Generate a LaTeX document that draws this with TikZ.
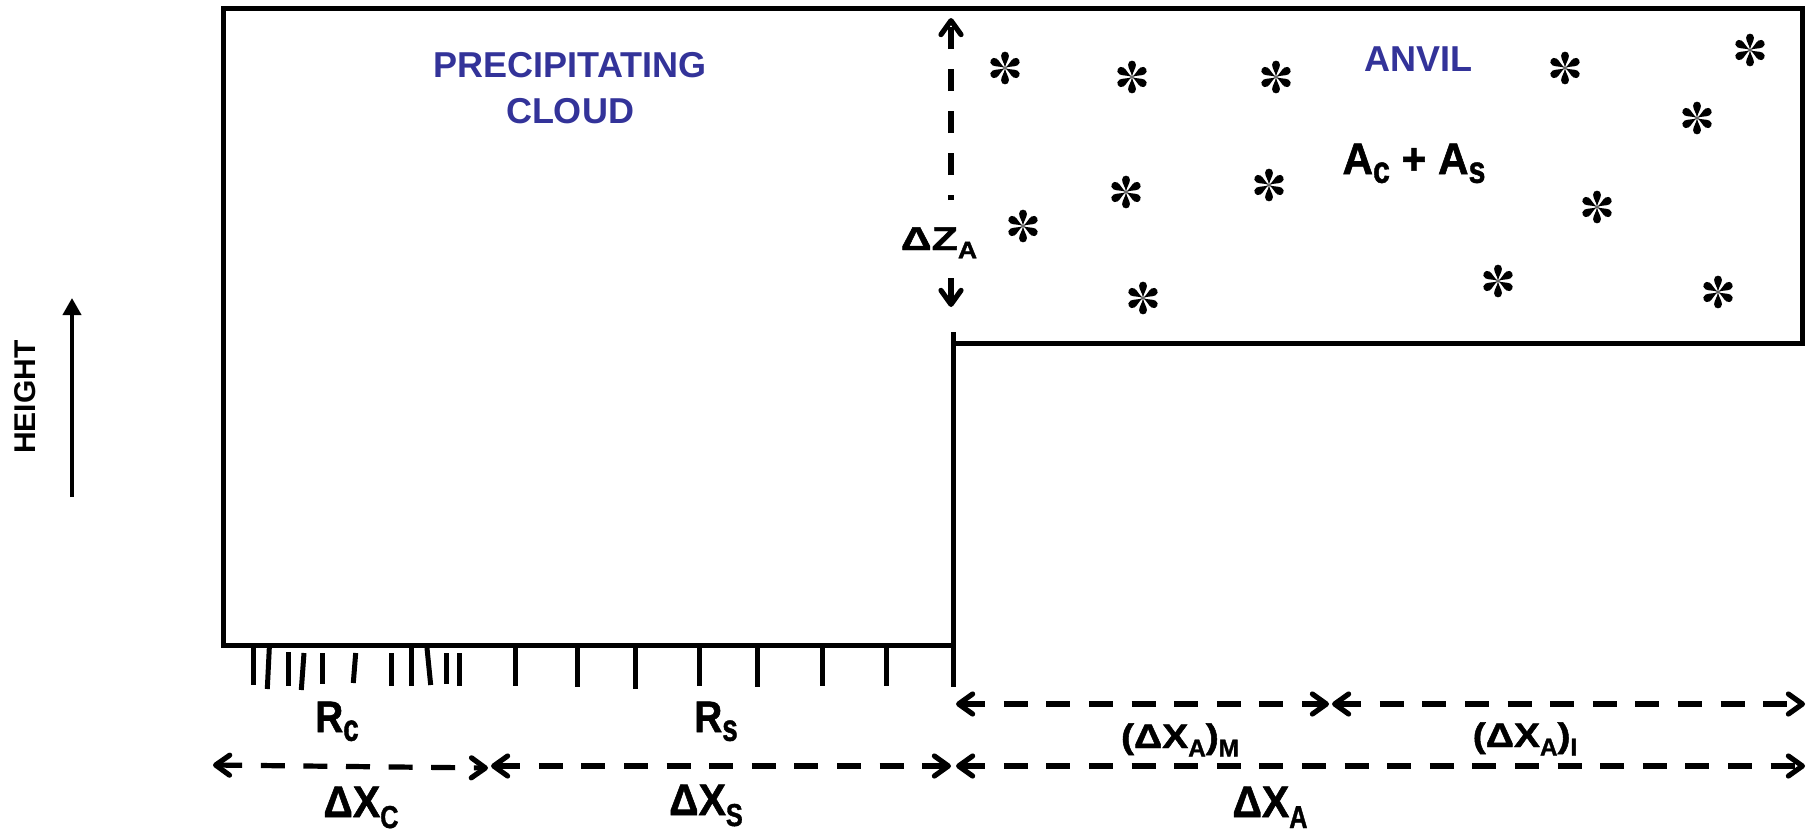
\documentclass[tikz,border=0pt]{standalone}
\usepackage{fontspec}
\setmainfont{Liberation Sans}
\newfontfamily\heavyfont{Liberation Sans Bold}[FakeBold=1.3]
\usepackage{graphicx}
\usetikzlibrary{arrows.meta}
\definecolor{cloudblue}{RGB}{51,51,153}
\newcommand\csb[1]{\raisebox{-0.25em}{\scalebox{0.62}[0.72]{#1}}}
\newcommand\lsb[1]{\raisebox{-0.2em}{\scalebox{0.72}[0.86]{#1}}}
\newcommand\lab[3]{\scalebox{#1}[1]{\fontsize{#2}{#2}\heavyfont #3}}
\tikzset{
  outline/.style={line width=2.5pt, line join=miter},
  ticklin/.style={line width=2.5pt},
  barb/.tip={Straight Barb[length=7pt,width=10pt,line cap=round,line join=round]},
  dimarrow/.style={line width=2.6pt, dash pattern=on 12pt off 9.3pt, {barb}-{barb}},
  lbl/.style={inner sep=0pt, anchor=base},
  bluetxt/.style={inner sep=0pt, anchor=base, text=cloudblue, font=\fontsize{18}{18}\selectfont\bfseries},
  flake/.pic={\foreach \a in {30,90,...,330}{\fill[rotate=\a] (0,0) .. controls (5,0.5) and (8.5,3.9) .. (12.3,3.9) .. controls (14.9,3.9) and (16.3,2.2) .. (16.3,0) .. controls (16.3,-2.2) and (14.9,-3.9) .. (12.3,-3.9) .. controls (8.5,-3.9) and (5,-0.5) .. (0,0);}}
}
\begin{document}
\begin{tikzpicture}[x=0.5pt,y=-0.5pt]
\useasboundingbox (0,0) rectangle (1810,830);

% outline of cloud and anvil
\draw[outline] (953,332) -- (953,687);
\draw[outline] (953,343) -- (1802,343) -- (1802,8) -- (223,8) -- (223,645) -- (953,645);

% rain ticks
\foreach \xa/\xb/\ya/\yb in {253/253/648/685, 269.3/267.3/648/689, 288/288/652/686, 304/301.3/653/690, 322/322/653/684, 355.7/353.3/653/683, 391/391/653/686, 411/411/648/686, 427/430.7/648/685, 446/446/653/684, 459/459/653/686, 515/515/648/686, 577/577/648/687, 635/635/648/689, 699/699/648/686, 757/757/648/687, 822/822/648/686, 886/886/648/686}
  \draw[ticklin] (\xa,\ya) -- (\xb,\yb);

% snow in the anvil
\foreach \p in {(1005,68),(1132,77),(1276,77),(1565,68),(1750,50),(1697,118),(1126,192),(1269,185),(1023,226),(1597,207),(1143,298),(1498,281),(1718,292)}
  \pic at \p {flake};

% titles
\node[bluetxt] (pc1) at (570,77) {PRECIPITATING};
\node[bluetxt] (pc2) at (570,123) {CLOUD};
\node[bluetxt] (anvil) at (1418,71) {ANVIL};
\node[lbl] (acas) at (1414,174) {\lab{0.96}{22}{A\lsb{c} + A\lsb{s}}};

% height axis
\node[inner sep=0pt, anchor=base, rotate=90, font=\fontsize{15}{15}\selectfont\bfseries] (height) at (35,397) {HEIGHT};
\coordinate (hb) at (72,497);
\coordinate (ht) at (72,298);
\draw[line width=2pt, -{Triangle[length=8.5pt,width=9pt]}] (hb) -- (ht);

% Delta Z_A
\node[lbl] (dz) at (939,250) {\lab{1.3}{16.5}{ΔZ\csb{A}}};
\coordinate (zu) at (951,200);
\coordinate (zt) at (951,18);
\coordinate (zd) at (951,278);
\coordinate (zb) at (951,307);
\draw[line width=2.6pt, dash pattern=on 11pt off 10pt, dash phase=8.5pt, -{barb}] (zu) -- (zt);
\draw[line width=2.6pt, -{barb}] (zd) -- (zb);

% bottom labels
\node[lbl] (rc) at (337,732) {\lab{0.88}{22}{R\lsb{c}}};
\node[lbl] (rs) at (716,732) {\lab{0.88}{22}{R\lsb{s}}};
\node[lbl] (dxc) at (361,817) {\lab{0.93}{22}{ΔX\csb{C}}};
\node[lbl] (dxs) at (706,815) {\lab{0.93}{22}{ΔX\csb{S}}};
\node[lbl] (dxa) at (1270,817) {\lab{0.93}{22}{ΔX\csb{A}}};
\node[lbl] (dxm) at (1180,748) {\lab{1.15}{17}{(ΔX\csb{A})\csb{M}}};
\node[lbl] (dxi) at (1525,747) {\lab{1.15}{17}{(ΔX\csb{A})\csb{I}}};

% dimension arrows
\coordinate (cL) at (213,765);
\coordinate (cR) at (488,768);
\coordinate (sL) at (491,766);
\coordinate (sR) at (951,766);
\coordinate (aL) at (956,766);
\coordinate (aR) at (1805,766);
\coordinate (mL) at (956,704);
\coordinate (mR) at (1329,704);
\coordinate (iL) at (1332,704);
\coordinate (iR) at (1805,704);
\draw[dimarrow] (cL) -- (cR);
\draw[dimarrow] (sL) -- (sR);
\draw[dimarrow] (aL) -- (aR);
\draw[dimarrow] (mL) -- (mR);
\draw[dimarrow] (iL) -- (iR);
\end{tikzpicture}
\end{document}
